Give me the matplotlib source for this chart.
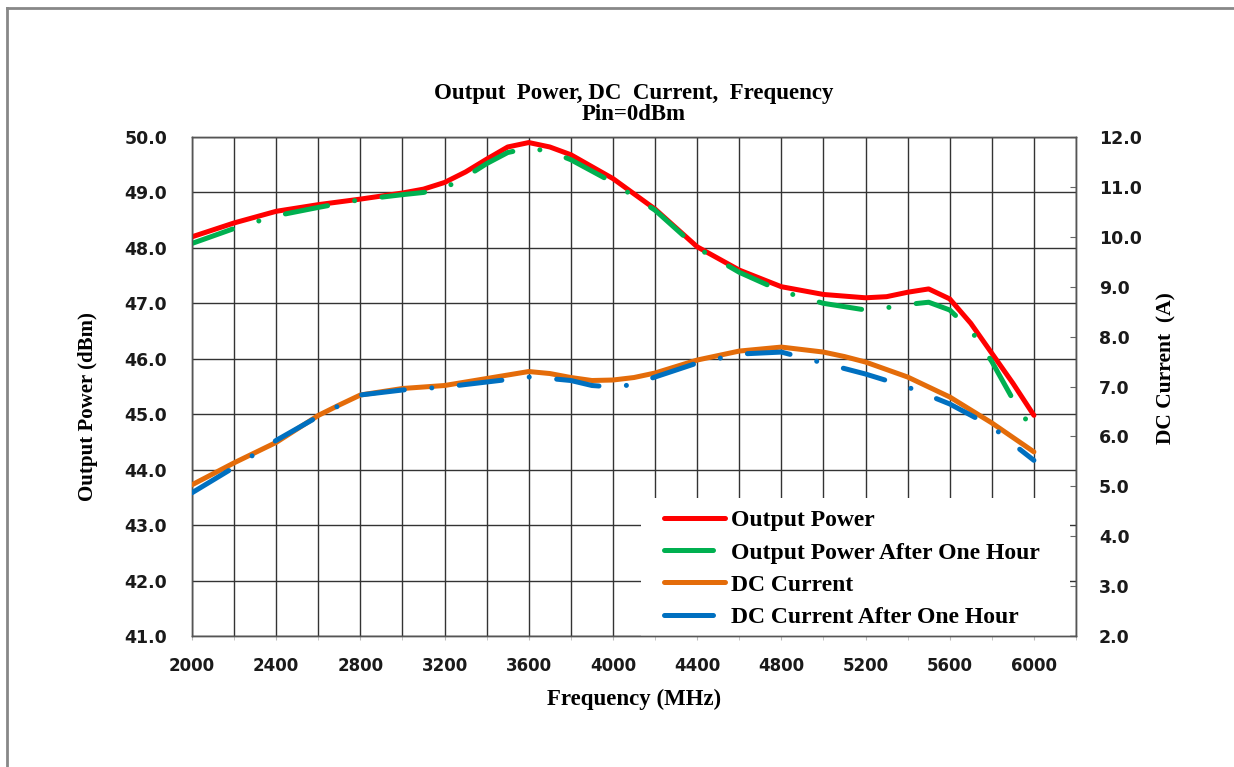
import numpy as np
import matplotlib
matplotlib.use("Agg")
import matplotlib.pyplot as plt
from matplotlib.lines import Line2D
from matplotlib.patches import Rectangle

####################################################################
# data

freq_op = [2000, 2200, 2400, 2600, 2800, 3000, 3100, 3200, 3300, 3400, 3500, 3600, 3700,
           3800, 4000, 4200, 4400, 4600, 4800, 5000, 5200, 5300, 5400, 5500, 5600,
           5700, 5800, 5900, 6000]
output_power = [48.20, 48.45, 48.66, 48.78, 48.88, 48.99, 49.06, 49.18, 49.37, 49.60, 49.82,
                49.90, 49.82, 49.68, 49.25, 48.70, 48.02, 47.60, 47.30, 47.16, 47.10, 47.12,
                47.20, 47.26, 47.08, 46.64, 46.10, 45.56, 44.98]
output_power_1h = [48.08, 48.35, 48.58, 48.73, 48.87, 48.96, 49.00, 49.08, 49.28, 49.52, 49.72,
                   49.80, 49.74, 49.59, 49.18, 48.68, 48.00, 47.56, 47.22, 47.00, 46.88, 46.92,
                   46.98, 47.02, 46.88, 46.52, 45.95, 45.27, 44.68]

freq_dc = [2000, 2200, 2400, 2600, 2700, 2800, 3000, 3200, 3400, 3600, 3700, 3800, 3900,
           4000, 4100, 4200, 4400, 4600, 4800, 5000, 5100, 5200, 5400, 5600, 5800, 5900, 6000]
dc_current = [5.03, 5.47, 5.88, 6.42, 6.63, 6.83, 6.96, 7.02, 7.16, 7.30, 7.26, 7.18, 7.12,
              7.13, 7.18, 7.27, 7.53, 7.71, 7.79, 7.69, 7.60, 7.49, 7.19, 6.79, 6.27, 5.98, 5.69]
dc_current_1h = [4.87, 5.38, 5.92, 6.40, 6.62, 6.83, 6.93, 6.99, 7.09, 7.19, 7.16, 7.12, 7.02,
                 6.99, 7.04, 7.19, 7.47, 7.65, 7.69, 7.47, 7.36, 7.25, 6.99, 6.65, 6.20, 5.85, 5.52]

labels = ['Output Power', 'Output Power After One Hour', 'DC Current', 'DC Current After One Hour']
colors = ['#FF0000', '#00B050', '#E46C0A', '#0070C0']

####################################################################

serif = {'family': 'Liberation Serif', 'weight': 'bold'}
dashdot = (0, (8.6, 5.5, 0.01, 5.5))
lw = 3.6

fig = plt.figure(figsize=(12.34, 7.67), dpi=100)
ax = fig.add_axes([192/1234, 1 - 636/767, (1076-192)/1234, (636-137)/767])
ax2 = ax.twinx()

# outer chart border (only top and left visible)
fig.add_artist(Line2D([7/1234, 7/1234], [1 - 8/767, 0], transform=fig.transFigure,
                      color='#888888', lw=2))
fig.add_artist(Line2D([7/1234, 1], [1 - 8/767, 1 - 8/767], transform=fig.transFigure,
                      color='#888888', lw=2))

ax.plot(freq_op, output_power, color=colors[0], lw=lw, solid_capstyle='round', zorder=3)
ax.plot(freq_op, output_power_1h, color=colors[1], lw=lw, linestyle=dashdot,
        dash_capstyle='round', zorder=4)
ax2.plot(freq_dc, dc_current, color=colors[2], lw=lw, solid_capstyle='round', zorder=3)
ax2.plot(freq_dc, dc_current_1h, color=colors[3], lw=lw, linestyle=dashdot,
         dash_capstyle='round', zorder=4)

ax.set_xlim(2000, 6200)
ax.set_ylim(41, 50)
ax2.set_ylim(2, 12)
ax.set_xticks(np.arange(2000, 6001, 400))
ax.set_xticks(np.arange(2000, 6201, 200), minor=True)
ax.set_yticks(np.arange(41, 50.1, 1))
ax2.set_yticks(np.arange(2, 12.1, 1))
ax.set_yticklabels(['%.1f' % v for v in np.arange(41, 50.1, 1)])
ax2.set_yticklabels(['%.1f' % v for v in np.arange(2, 12.1, 1)])

ax.grid(True, which='both', axis='x', color='#333333', lw=1.0)
ax.grid(True, which='major', axis='y', color='#333333', lw=1.0)
ax.set_axisbelow(True)

ax.tick_params(axis='x', which='both', length=3, color='#bbbbbb', pad=12,
               labelsize=12)
ax.tick_params(axis='y', length=0, pad=18, labelsize=12.5)
ax2.tick_params(axis='y', direction='in', length=4, color='#666666', pad=16.5, labelsize=12.5)
for lab in ax.get_xticklabels() + ax.get_yticklabels() + ax2.get_yticklabels():
    lab.set_fontweight('bold')
    lab.set_color('#1a1a1a')

for sp in list(ax.spines.values()) + list(ax2.spines.values()):
    sp.set_color('#555555')
    sp.set_linewidth(1.0)

ax.set_xlabel('Frequency (MHz)', fontdict=serif, fontsize=16.5, labelpad=10)
ax.set_ylabel('Output Power (dBm)', fontdict=serif, fontsize=15)
ax.yaxis.set_label_coords(-0.106, 0.46)
ax2.set_ylabel('DC Current  (A)', fontdict=serif, fontsize=15.5)
ax2.yaxis.set_label_coords(1.091, 0.537)
ax.set_title('Output  Power, DC  Current,  Frequency\nPin=0dBm', fontdict=serif,
             fontsize=16.5, linespacing=1.05, pad=12)

# white legend area hiding the grid
ax.add_patch(Rectangle(((641-192)/884, 0), (1070-641)/884, (636-498)/499,
                       transform=ax.transAxes, facecolor='white', edgecolor='none', zorder=1))

handles = [Line2D([], [], color=colors[0], lw=lw, solid_capstyle='round'),
           Line2D([], [], color=colors[1], lw=lw, linestyle=(0, (9.8, 50)), dash_capstyle='round'),
           Line2D([], [], color=colors[2], lw=lw, solid_capstyle='round'),
           Line2D([], [], color=colors[3], lw=lw, linestyle=(0, (9.8, 50)), dash_capstyle='round')]
ax2.legend(handles, labels, loc='lower left', bbox_to_anchor=(0.507, -0.031), frameon=False,
           prop={'family': 'Liberation Serif', 'weight': 'bold', 'size': 17},
           handlelength=2.6, handletextpad=0.25, labelspacing=0.45, borderpad=0.5)

fig.savefig('out.png', dpi=100)
